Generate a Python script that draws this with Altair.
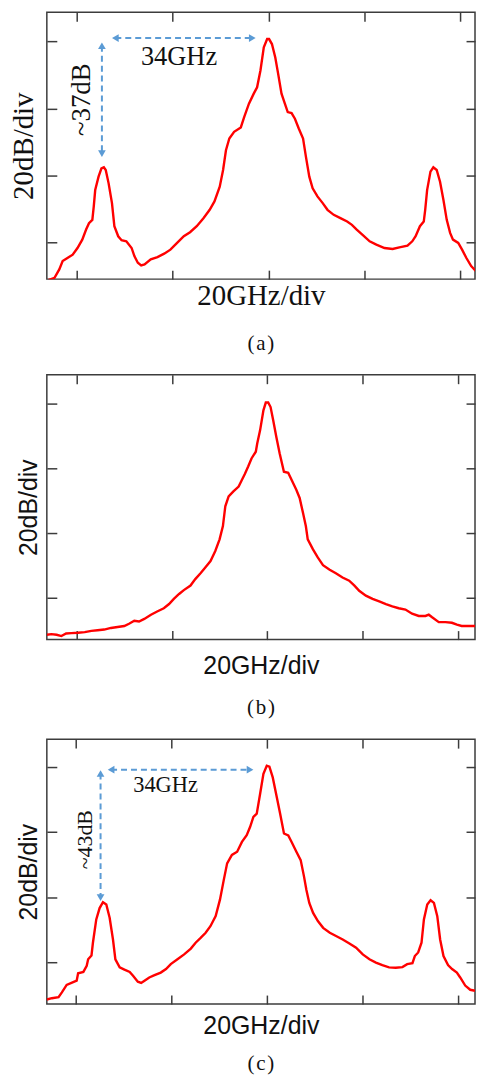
import altair as alt
import pandas as pd

# ---------------- data (frequency offset in GHz, power in dB rel. main peak) ----------------
XTICKS = [-40, -20, 0, 20, 40]
YTICKS = [0, -20, -40, -60]

a_f = [-46.0,-44.7,-43.7,-43.0,-42.0,-40.9,-39.9,-38.9,-38.1,-37.5,
       -36.8,-36.5,-36.2,-35.5,-34.9,-34.4,-34.0,-33.4,-32.7,-32.2,
       -31.4,-30.7,-29.7,-28.6,-28.0,-27.3,-26.6,-25.9,-24.6,-23.2,
       -21.8,-20.5,-19.1,-17.7,-16.4,-15.0,-13.6,-12.3,-11.3,-10.2,
       -9.5,-8.9,-8.2,-7.2,-5.8,-5.1,-4.1,-3.1,-2.4,-1.7,
       -1.0,-0.3,0.1,0.7,1.4,2.0,2.7,3.4,4.0,4.8,
       5.5,6.3,7.2,7.8,8.5,9.2,10.2,11.3,12.3,13.6,
       15.0,16.4,17.4,18.4,19.8,21.1,22.5,24.2,25.9,27.3,
       29.0,30.0,30.7,31.6,32.4,32.7,33.1,33.8,34.4,35.1,
       35.8,36.5,37.2,37.9,38.5,39.6,40.4,41.3,42.3,43.3]
a_p = [-71.3,-70.6,-68.1,-65.6,-64.7,-63.7,-61.7,-59.2,-56.2,-54.3,
       -53.3,-49.3,-44.4,-40.4,-37.9,-37.6,-38.4,-42.4,-48.3,-55.2,
       -58.2,-59.4,-59.7,-61.7,-64.2,-66.1,-66.9,-66.6,-65.1,-64.4,
       -63.4,-62.2,-60.2,-58.2,-57.0,-55.2,-52.8,-50.3,-47.8,-43.4,
       -38.4,-32.5,-29.0,-27.0,-25.7,-22.6,-18.6,-15.6,-13.7,-8.7,
       -1.8,0.7,0.7,-0.8,-4.8,-9.7,-15.6,-18.6,-21.1,-21.4,
       -23.1,-26.0,-29.0,-34.5,-40.4,-43.9,-46.3,-48.3,-50.3,-51.8,
       -52.8,-53.8,-54.8,-56.2,-58.0,-59.7,-60.7,-61.7,-62.0,-61.5,
       -61.0,-59.7,-58.2,-55.2,-53.8,-50.3,-44.4,-38.9,-37.6,-38.4,
       -41.9,-47.3,-53.3,-57.2,-59.2,-60.2,-62.2,-64.7,-67.1,-68.6]

b_f = [-46.25,-45.3,-44.2,-43.2,-42.2,-41.1,-39.7,-38.3,-36.9,-35.6,
       -34.2,-32.8,-31.4,-30.0,-29.0,-27.9,-26.9,-25.8,-24.4,-23.1,
       -21.7,-20.6,-19.6,-18.5,-17.5,-16.1,-15.1,-14.0,-13.0,-11.9,
       -10.9,-10.0,-9.3,-8.8,-8.1,-7.1,-6.0,-5.3,-4.7,-4.0,
       -3.3,-2.4,-2.1,-1.5,-0.8,-0.3,0.2,0.7,1.25,1.9,
       2.6,3.5,4.4,5.1,6.1,6.8,7.5,8.1,8.5,9.6,
       10.6,11.7,13.1,14.4,15.8,17.2,18.3,19.3,20.7,22.1,
       23.5,24.9,26.25,27.6,29.0,30.4,31.8,33.2,33.9,34.6,
       36.0,37.4,38.75,39.8,40.8,43.6]
b_p = [-71.4,-71.2,-71.4,-71.8,-71.0,-70.9,-70.8,-70.6,-70.2,-70.0,
       -69.8,-69.3,-69.0,-68.7,-68.0,-67.1,-67.3,-66.5,-65.2,-64.2,
       -63.2,-61.9,-60.3,-58.8,-57.6,-56.2,-54.2,-52.4,-50.6,-48.6,
       -45.5,-41.9,-37.8,-31.7,-28.6,-27.1,-25.6,-23.5,-21.7,-19.4,
       -16.9,-14.8,-12.3,-8.2,-2.0,0.4,0.4,-1.0,-5.1,-10.2,
       -15.3,-21.0,-21.3,-23.5,-26.6,-29.1,-33.7,-37.8,-41.9,-45.0,
       -47.5,-49.9,-51.3,-52.4,-53.7,-54.7,-56.2,-57.8,-59.3,-60.3,
       -61.1,-61.9,-62.6,-63.2,-63.6,-64.9,-65.6,-65.6,-65.2,-66.0,
       -67.5,-67.5,-67.7,-68.3,-68.7,-68.7]

c_f = [-46.05,-45.0,-43.6,-42.9,-41.9,-40.9,-39.8,-39.5,-38.4,-37.7,
       -37.4,-36.7,-36.4,-35.7,-35.0,-34.3,-33.6,-32.9,-32.2,-31.7,
       -30.8,-29.8,-28.7,-28.0,-27.0,-26.3,-25.6,-24.6,-23.5,-22.2,
       -21.1,-20.1,-18.7,-17.3,-15.9,-14.9,-13.85,-12.8,-11.8,-10.7,
       -9.8,-9.0,-8.3,-7.3,-6.2,-5.2,-4.2,-3.5,-2.8,-2.1,
       -1.4,-0.7,0.0,0.55,1.25,2.1,2.8,3.6,4.5,5.2,
       6.2,7.1,7.8,8.3,8.9,9.7,10.7,11.8,13.2,14.5,
       15.9,17.3,18.7,20.1,21.5,22.85,24.2,25.6,27.0,28.4,
       29.4,30.5,31.0,31.7,32.4,32.9,33.6,34.3,35.0,35.7,
       36.3,37.0,37.95,38.8,39.8,40.5,41.55,42.6,43.6]
c_p = [-71.6,-71.2,-70.9,-69.4,-67.1,-66.5,-65.8,-63.5,-63.1,-61.2,
       -59.2,-58.0,-54.1,-46.9,-43.4,-41.6,-42.3,-46.4,-53.1,-59.2,
       -61.7,-62.4,-63.1,-64.3,-66.1,-66.5,-65.8,-64.8,-64.1,-63.3,
       -62.2,-60.7,-59.2,-57.7,-55.9,-54.1,-52.6,-51.0,-49.0,-45.9,
       -40.8,-34.7,-29.6,-27.0,-26.0,-23.0,-20.9,-18.4,-15.3,-14.3,
       -8.2,-2.0,0.5,0.2,-3.1,-9.2,-14.3,-20.4,-21.0,-23.0,
       -26.0,-28.6,-33.7,-37.8,-41.8,-44.9,-47.4,-49.5,-51.0,-52.0,
       -53.1,-54.3,-55.6,-57.7,-59.2,-60.2,-61.0,-61.7,-61.8,-61.6,
       -60.7,-60.4,-58.2,-57.1,-54.1,-46.9,-42.3,-41.0,-41.8,-45.9,
       -53.1,-58.2,-61.0,-62.2,-63.3,-64.8,-67.3,-68.6,-68.9]

# annotations: arrow shafts / heads (x, y), labels
a_arrow_x = [-32.0, -3.4, -34.8, -34.8]
a_arrow_y = [1.0, 1.0, -1.3, -33.5]
c_arrow_x = [-32.6, -3.5, -34.8, -34.8]
c_arrow_y = [-0.7, -0.7, -1.9, -40.2]
arrow_group = ["h", "h", "v", "v"]
arrow_shape = ["triangle-left", "triangle-right", "triangle-up", "triangle-down"]

a_labels = ["34GHz", "~37dB"]
a_label_x = [-18.7, -39.0]
a_label_y = [-4.6, -17.4]
c_labels = ["34GHz", "~43dB"]
c_label_x = [-21.2, -38.1]
c_label_y = [-5.5, -22.3]
label_angle = [0, 270]

HS = "\u200a"  # hair space, as in the spaced-out captions
captions = ["(" + HS + "a" + HS + ")", "(" + HS + "b" + HS + ")", "(" + HS + "c" + HS + ")"]

RED = "#ff0000"
BLUE = "#5b9bd5"
FRAME = "#3c3c3c"
SERIF = "Liberation Serif"
SANS = "Liberation Sans"


def panel(fs, ps, xdom, ydom, w, h, tfont, tsize, xtp, ytp, caption, cap_off,
          arrows=None, labels=None, lsize=(24, 24)):
    df = pd.DataFrame({"f": fs, "p": ps})
    xs = alt.Scale(domain=xdom, nice=False, zero=False)
    ys = alt.Scale(domain=ydom, nice=False, zero=False)
    bottom = alt.Axis(orient="bottom", values=XTICKS, offset=-9, tickSize=9,
                      labels=False, domain=False, grid=False, title="20GHz/div",
                      titleFont=tfont, titleFontSize=tsize, titleFontWeight="normal",
                      titleColor="#111111", titlePadding=xtp, minExtent=0)
    left = alt.Axis(orient="left", values=YTICKS, offset=-10, tickSize=10,
                    labels=False, domain=False, grid=False, title="20dB/div",
                    titleFont=tfont, titleFontSize=tsize, titleFontWeight="normal",
                    titleColor="#111111", titlePadding=ytp, minExtent=0)
    top = alt.Axis(orient="top", values=XTICKS, offset=-9, tickSize=9,
                   labels=False, domain=False, grid=False, title=None, minExtent=0)
    right = alt.Axis(orient="right", values=YTICKS, offset=-9, tickSize=9,
                     labels=False, domain=False, grid=False, title=None, minExtent=0)

    curve = alt.Chart(df).mark_line(color=RED, strokeWidth=2.4, clip=True).encode(
        x=alt.X("f:Q", scale=xs, axis=bottom),
        y=alt.Y("p:Q", scale=ys, axis=left),
    )
    frame = alt.Chart(df).mark_point(opacity=0, clip=True).encode(
        x=alt.X("f:Q", scale=xs, axis=top),
        y=alt.Y("p:Q", scale=ys, axis=right),
    )
    layers = [curve, frame]
    if arrows is not None:
        ax, ay = arrows
        adf = pd.DataFrame({"x": ax, "y": ay, "g": arrow_group,
                            "o": [0, 1, 0, 1], "s": arrow_shape})
        shaft = alt.Chart(adf).mark_line(color=BLUE, strokeWidth=2,
                                         strokeDash=[6, 4]).encode(
            x=alt.X("x:Q", scale=xs, axis=None),
            y=alt.Y("y:Q", scale=ys, axis=None),
            detail="g:N", order="o:Q")
        heads = alt.Chart(adf).mark_point(color=BLUE, filled=True, size=60,
                                          opacity=1).encode(
            x=alt.X("x:Q", scale=xs, axis=None),
            y=alt.Y("y:Q", scale=ys, axis=None),
            shape=alt.Shape("s:N", scale=None))
        layers += [shaft, heads]
    if labels is not None:
        lt, lx, ly = labels
        for i in range(len(lt)):
            ldf = pd.DataFrame({"x": [lx[i]], "y": [ly[i]], "t": [lt[i]]})
            txt = alt.Chart(ldf).mark_text(font=SERIF, fontSize=lsize[i],
                                           color="#111111", angle=label_angle[i],
                                           align="center", baseline="middle").encode(
                x=alt.X("x:Q", scale=xs, axis=None),
                y=alt.Y("y:Q", scale=ys, axis=None),
                text="t:N")
            layers.append(txt)
    ttl = alt.TitleParams(caption, orient="bottom", anchor="middle", font=SERIF,
                          fontSize=21, fontWeight="normal", color="#111111",
                          offset=cap_off)
    ch = alt.layer(*layers).resolve_axis(x="independent", y="independent").properties(
        width=w, height=h, title=ttl)
    return ch


pa = panel(a_f, a_p, [-46.3, 43.1], [-71.0, 8.7], 430, 268, SERIF, 29, 2, 7.75,
           captions[0], 22.2, arrows=(a_arrow_x, a_arrow_y),
           labels=(a_labels, a_label_x, a_label_y), lsize=(26.5, 27))
pb = panel(b_f, b_p, [-46.25, 43.6], [-72.9, 9.0], 430, 266, SANS, 25, 13.6, 4.75,
           captions[1], 18.1)
pc = panel(c_f, c_p, [-46.05, 43.6], [-73.0, 8.7], 430, 266, SANS, 25, 8.65, 4.75,
           captions[2], 14.9, arrows=(c_arrow_x, c_arrow_y),
           labels=(c_labels, c_label_x, c_label_y), lsize=(22.5, 22))

chart = alt.vconcat(pa, pb, pc, spacing=18).properties(
    padding={"left": 0, "top": 0, "right": 0, "bottom": 0},
    background="white",
).configure_view(stroke=FRAME, strokeWidth=1.5).configure_axis(
    tickColor=FRAME, tickWidth=1.5)

chart.save("out.html", embed_options={"renderer": "svg", "actions": False})
